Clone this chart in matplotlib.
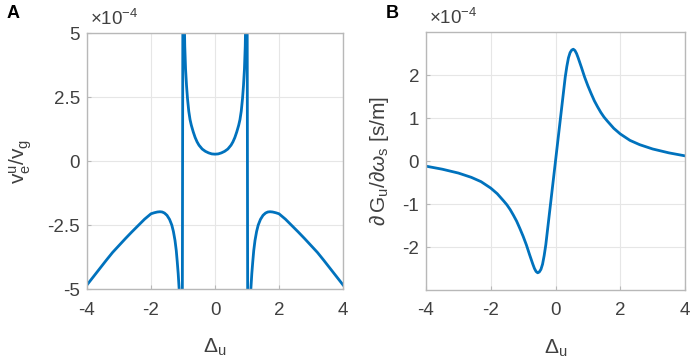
import numpy as np
import matplotlib
matplotlib.use("Agg")
import matplotlib.pyplot as plt

plt.rcParams['font.family'] = ['Liberation Sans', 'DejaVu Sans']
plt.rcParams['mathtext.fontset'] = 'custom'
plt.rcParams['mathtext.rm'] = 'Liberation Sans'
plt.rcParams['mathtext.it'] = 'Liberation Sans:italic'
plt.rcParams['mathtext.bf'] = 'Liberation Sans:bold'

# panel A, right half (x >= 0), values in units of 1e-4; left half is the mirror
a_mid_x = [0.0, 0.1, 0.2, 0.3, 0.4, 0.5, 0.56, 0.62, 0.68, 0.74, 0.78, 0.82, 0.86, 0.89,
           0.92, 0.945, 0.965, 0.985]
a_mid_y = [0.27, 0.28, 0.32, 0.38, 0.47, 0.62, 0.75, 0.92, 1.14, 1.4, 1.62, 1.95, 2.45, 2.95,
           3.6, 4.5, 6.0, 20.0]
a_out_x = [1.03, 1.08, 1.12, 1.15, 1.18, 1.21, 1.25, 1.3, 1.35, 1.42, 1.5, 1.58, 1.65, 1.72,
           1.8, 1.9, 2.0, 2.2, 2.4, 2.6, 2.8, 3.0, 3.2, 3.4, 3.6, 3.8, 4.0]
a_out_y = [-12.0, -6.5, -5.0, -4.4, -3.93, -3.5, -3.1, -2.75, -2.5, -2.28, -2.12, -2.03, -1.99, -1.98,
           -1.99, -2.02, -2.06, -2.27, -2.52, -2.77, -3.03, -3.3, -3.57, -3.88, -4.2, -4.52, -4.84]

# panel B, right half; left half is the negative mirror
b_x = [0.0, 0.1, 0.2, 0.3, 0.35, 0.4, 0.45, 0.5, 0.55, 0.6, 0.65, 0.7, 0.8, 0.9, 1.0, 1.1,
       1.2, 1.3, 1.4, 1.5, 1.6, 1.8, 2.0, 2.3, 2.6, 3.0, 3.5, 4.0]
b_y = [0.0, 0.65, 1.3, 1.95, 2.2, 2.4, 2.52, 2.58, 2.6, 2.57, 2.5, 2.4, 2.18, 1.95, 1.75, 1.57,
       1.4, 1.26, 1.13, 1.02, 0.93, 0.76, 0.63, 0.48, 0.38, 0.28, 0.19, 0.12]

x_ticks = [-4, -2, 0, 2, 4]
a_ticks = [-5, -2.5, 0, 2.5, 5]
a_ticklabels = ['-5', '-2.5', '0', '2.5', '5']
b_ticks = [-2, -1, 0, 1, 2]

blue = '#0072BD'
tick_col = '#404040'
spine_col = '#b8b8b8'
grid_col = '#e6e6e6'


def mirror(xs, ys, odd):
    xs = np.array(xs)
    ys = np.array(ys)
    sign = -1 if odd else 1
    return xs, ys, -xs[::-1], sign * ys[::-1]


def style(ax):
    for s in ax.spines.values():
        s.set_color(spine_col)
        s.set_linewidth(1.0)
    ax.tick_params(axis='both', colors=spine_col, labelcolor=tick_col, labelsize=13.5,
                   direction='in', length=3)
    ax.tick_params(axis='x', pad=9)
    ax.tick_params(axis='y', pad=5)
    ax.grid(True, color=grid_col, linewidth=0.8)
    ax.set_axisbelow(True)
    ax.set_xlim(-4, 4)
    ax.set_xticks(x_ticks)
    ax.set_xticklabels(['-4', '-2', '0', '2', '4'])
    ax.set_xlabel(r'$\Delta_\mathrm{u}$', fontsize=15, color=tick_col)
    ax.xaxis.set_label_coords(0.5, -0.185)
    ax.text(0.01, 1.03, r'$\times$10$^{\mathrm{-4}}$', transform=ax.transAxes,
            fontsize=13.5, color=tick_col, va='baseline', ha='left')


fig = plt.figure(figsize=(6.92, 3.64), dpi=100)

# Panel A
axA = fig.add_axes([0.1257, 0.206, 0.370, 0.703])
style(axA)
mx, my, mxl, myl = mirror(a_mid_x, a_mid_y, False)
ox, oy, oxl, oyl = mirror(a_out_x, a_out_y, False)
xa = np.concatenate([oxl, mxl, mx[1:], ox])
ya = np.concatenate([oyl, myl, my[1:], oy])
axA.plot(xa, ya, color=blue, linewidth=2.0)
axA.set_ylim(-5, 5)
axA.set_yticks(a_ticks)
axA.set_yticklabels(a_ticklabels)
axA.set_ylabel(r'$\mathrm{v^u_e/v_g}$', fontsize=15, color=tick_col)
axA.yaxis.set_label_coords(-0.205, 0.5)

# Panel B
axB = fig.add_axes([0.6156, 0.2033, 0.3743, 0.7087])
style(axB)
bx, by, bxl, byl = mirror(b_x, b_y, True)
xb = np.concatenate([bxl, bx[1:]])
yb = np.concatenate([byl, by[1:]])
axB.plot(xb, yb, color=blue, linewidth=2.0)
axB.set_ylim(-3, 3)
axB.set_yticks(b_ticks)
axB.set_yticklabels(['-2', '-1', '0', '1', '2'])
axB.set_ylabel(r'$\partial\,\mathrm{G_u}/\partial\omega_\mathrm{s}$ [s/m]', fontsize=15, color=tick_col)
axB.yaxis.set_label_coords(-0.135, 0.5)

fig.text(0.010, 0.985, 'A', fontsize=13, fontweight='bold', va='top', ha='left')
fig.text(0.557, 0.985, 'B', fontsize=13, fontweight='bold', va='top', ha='left')

fig.savefig('out.png', dpi=100)
